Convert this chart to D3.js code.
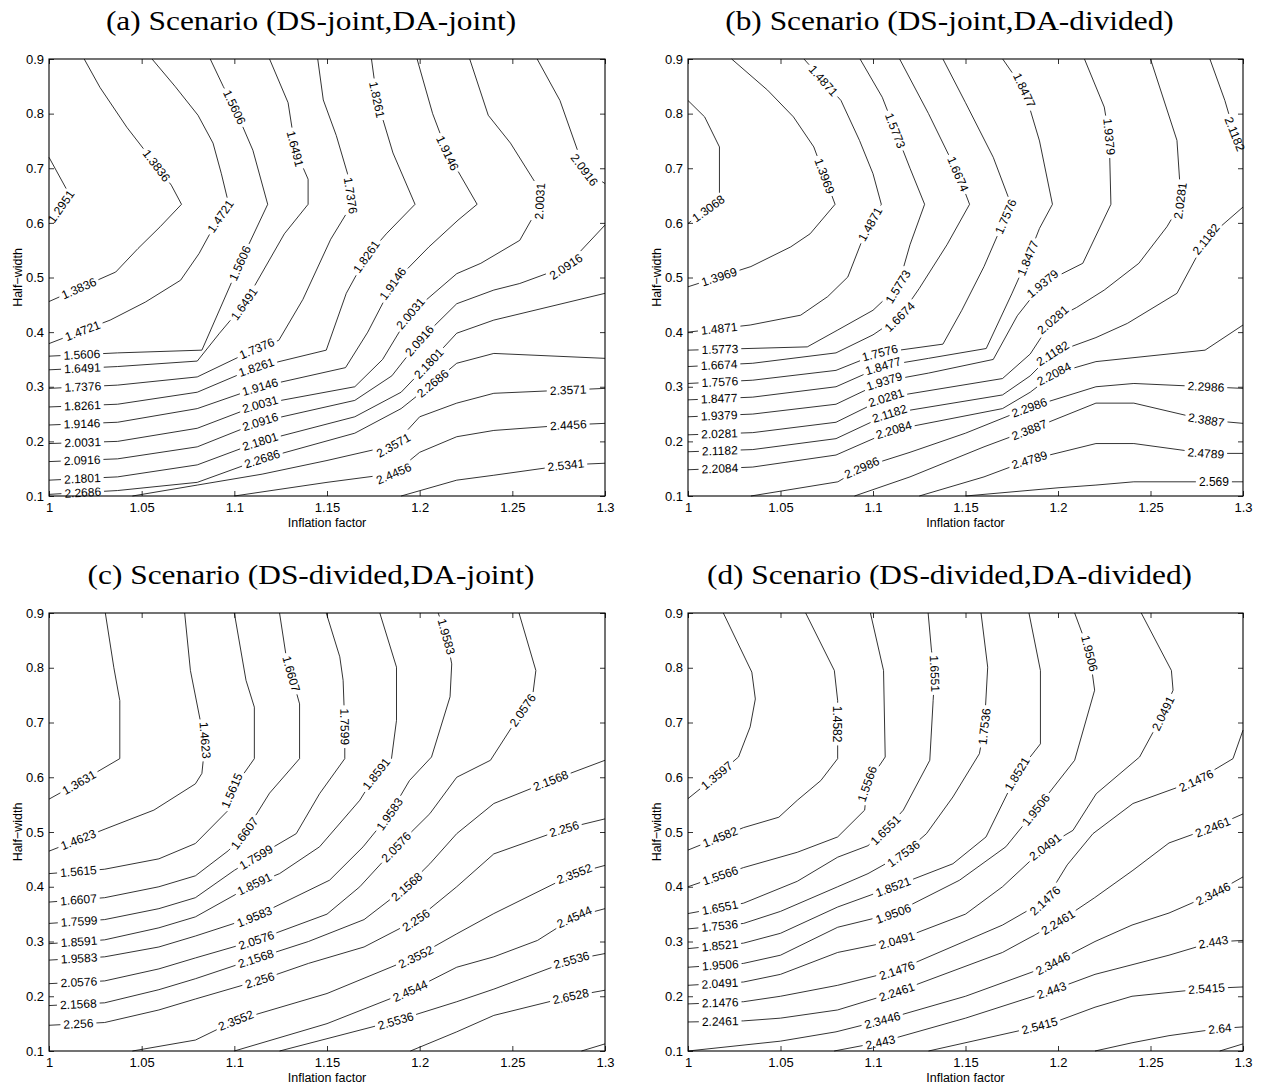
<!DOCTYPE html>
<html>
<head>
<meta charset="utf-8">
<script src="https://cdn.jsdelivr.net/npm/d3@7"></script>
<style>
body { margin: 0; background: #fff; }
text { font-family: "Liberation Sans", Arial, sans-serif; fill: #000; }
</style>
</head>
<body>
<svg id="fig" width="1265" height="1086"></svg>
<script>
(function () {
"use strict";

// ---- tick labels ----
var xTicks = [1, 1.05, 1.1, 1.15, 1.2, 1.25, 1.3];
var yTicks = [0.1, 0.2, 0.3, 0.4, 0.5, 0.6, 0.7, 0.8, 0.9];

// ---- panel (a) : DS-joint, DA-joint ----
var aLines = [
	[1.2951, [[1,0.72],[1.011,0.652],[1,0.598]]],
	[1.3836, [[1.019,0.9],[1.0275,0.848],[1.042,0.775],[1.058,0.705],[1.066,0.669],[1.0715,0.634],[1.06,0.593],[1.048,0.553],[1.036,0.51],[1,0.456]]],
	[1.4721, [[1.0556,0.9],[1.068,0.85],[1.0804,0.797],[1.0885,0.746],[1.093,0.69],[1.097,0.634],[1.09,0.6],[1.081,0.544],[1.071,0.495],[1.052,0.455],[1.033,0.422],[1,0.379]]],
	[1.5606, [[1.087,0.9],[1.094,0.85],[1.1,0.812],[1.11,0.733],[1.118,0.634],[1.103,0.526],[1.0825,0.367],[1.037,0.362],[1,0.356]]],
	[1.6491, [[1.119,0.9],[1.129,0.82],[1.133,0.733],[1.1398,0.68],[1.1398,0.634],[1.127,0.58],[1.1054,0.452],[1.092,0.398],[1.08,0.347],[1.037,0.337],[1,0.331]]],
	[1.7376, [[1.145,0.9],[1.148,0.825],[1.155,0.76],[1.161,0.691],[1.1635,0.634],[1.152,0.57],[1.137,0.46],[1.124,0.385],[1.112,0.37],[1.08,0.318],[1.037,0.303],[1,0.297]]],
	[1.8261, [[1.174,0.9],[1.177,0.825],[1.1856,0.728],[1.1975,0.634],[1.182,0.58],[1.1712,0.538],[1.1604,0.471],[1.1496,0.367],[1.112,0.336],[1.08,0.29],[1.037,0.268],[1,0.263]]],
	[1.9146, [[1.1986,0.9],[1.207,0.8],[1.215,0.728],[1.231,0.634],[1.2207,0.605],[1.205,0.556],[1.1856,0.489],[1.172,0.4],[1.16,0.335],[1.114,0.3],[1.08,0.26],[1.037,0.235],[1,0.23]]],
	[2.0031, [[1.227,0.9],[1.237,0.797],[1.249,0.746],[1.264,0.665],[1.265,0.634],[1.254,0.568],[1.233,0.526],[1.22,0.507],[1.195,0.434],[1.18,0.35],[1.165,0.3],[1.114,0.268],[1.08,0.224],[1.037,0.2],[1,0.196]]],
	[2.0916, [[1.2634,0.9],[1.2757,0.824],[1.289,0.696],[1.3,0.672]]],
	[2.0916, [[1.3,0.596],[1.279,0.52],[1.254,0.489],[1.24,0.477],[1.22,0.452],[1.2,0.385],[1.185,0.32],[1.165,0.275],[1.114,0.236],[1.08,0.19],[1.037,0.168],[1,0.163]]],
	[2.1801, [[1.3,0.471],[1.24,0.422],[1.22,0.398],[1.205,0.343],[1.19,0.29],[1.165,0.245],[1.114,0.2],[1.08,0.157],[1.037,0.135],[1,0.129]]],
	[2.2686, [[1.3,0.352],[1.24,0.361],[1.22,0.343],[1.207,0.306],[1.19,0.26],[1.165,0.215],[1.115,0.168],[1.08,0.125],[1.037,0.11],[1,0.103]]],
	[2.3571, [[1.045,0.1],[1.08,0.12],[1.115,0.14],[1.15,0.165],[1.186,0.193],[1.2,0.245],[1.22,0.27],[1.24,0.288],[1.28,0.294],[1.3,0.297]]],
	[2.4456, [[1.1,0.1],[1.15,0.125],[1.186,0.141],[1.2,0.18],[1.22,0.2085],[1.24,0.22],[1.28,0.23],[1.3,0.233]]],
	[2.5341, [[1.19,0.1],[1.22,0.129],[1.24,0.138],[1.28,0.157],[1.3,0.16]]]
];
var aLabels = [
	[1.2951,1.007,0.628],
	[1.3836,1.057,0.703],[1.3836,1.016,0.48],
	[1.4721,1.0905,0.617],[1.4721,1.018,0.402],
	[1.5606,1.1,0.812],[1.5606,1.103,0.526],[1.5606,1.018,0.357],
	[1.6491,1.132,0.735],[1.6491,1.1054,0.452],[1.6491,1.018,0.333],
	[1.7376,1.163,0.65],[1.7376,1.112,0.37],[1.7376,1.018,0.3],
	[1.8261,1.177,0.825],[1.8261,1.1712,0.538],[1.8261,1.112,0.336],[1.8261,1.018,0.265],
	[1.9146,1.2144,0.727],[1.9146,1.1856,0.489],[1.9146,1.114,0.3],[1.9146,1.018,0.232],
	[2.0031,1.265,0.64],[2.0031,1.195,0.434],[2.0031,1.114,0.268],[2.0031,1.018,0.198],
	[2.0916,1.289,0.696],[2.0916,1.279,0.52],[2.0916,1.2,0.385],[2.0916,1.114,0.236],[2.0916,1.018,0.165],
	[2.1801,1.205,0.343],[2.1801,1.114,0.2],[2.1801,1.018,0.131],
	[2.2686,1.207,0.306],[2.2686,1.115,0.168],[2.2686,1.018,0.105],
	[2.3571,1.186,0.193],[2.3571,1.28,0.294],
	[2.4456,1.186,0.141],[2.4456,1.28,0.23],
	[2.5341,1.279,0.157]
];

// ---- panel (b) : DS-joint, DA-divided ----
var bLines = [
	[1.3068, [[1,0.824],[1.009,0.794],[1.017,0.739],[1.017,0.641],[1,0.599]]],
	[1.3969, [[1.0236,0.9],[1.043,0.843],[1.057,0.794],[1.068,0.739],[1.0795,0.634],[1.066,0.58],[1.0555,0.556],[1.034,0.52],[1,0.483]]],
	[1.4871, [[1.0627,0.9],[1.0827,0.824],[1.0927,0.751],[1.1,0.69],[1.1045,0.634],[1.0955,0.58],[1.0864,0.501],[1.0755,0.465],[1.0609,0.431],[1.0336,0.413],[1,0.4]]],
	[1.5773, [[1.093,0.9],[1.105,0.83],[1.12,0.7],[1.1279,0.634],[1.12,0.56],[1.1135,0.483],[1.1,0.44],[1.081,0.404],[1.0645,0.373],[1,0.367]]],
	[1.6674, [[1.1144,0.9],[1.13,0.8],[1.1459,0.69],[1.1522,0.634],[1.14,0.56],[1.125,0.48],[1.1144,0.428],[1.1,0.395],[1.08,0.362],[1.035,0.343],[1,0.337]]],
	[1.7576, [[1.1378,0.9],[1.15,0.82],[1.165,0.72],[1.1746,0.634],[1.16,0.52],[1.148,0.44],[1.1378,0.378],[1.1036,0.362],[1.08,0.33],[1.035,0.312],[1,0.306]]],
	[1.8477, [[1.1701,0.9],[1.1818,0.843],[1.19,0.75],[1.197,0.634],[1.19,0.59],[1.1836,0.535],[1.175,0.47],[1.1612,0.37],[1.13,0.352],[1.1054,0.338],[1.08,0.3],[1.035,0.281],[1,0.276]]],
	[1.9379, [[1.2143,0.9],[1.225,0.812],[1.2277,0.757],[1.2286,0.634],[1.2134,0.526],[1.1917,0.489],[1.178,0.43],[1.165,0.35],[1.13,0.325],[1.106,0.31],[1.08,0.268],[1.035,0.25],[1,0.245]]],
	[2.0281, [[1.25,0.9],[1.2643,0.751],[1.2661,0.66],[1.2661,0.634],[1.2589,0.593],[1.2437,0.526],[1.225,0.477],[1.21,0.445],[1.197,0.422],[1.185,0.36],[1.17,0.315],[1.107,0.28],[1.08,0.235],[1.035,0.216],[1,0.212]]],
	[2.1182, [[1.2821,0.9],[1.2902,0.824],[1.2955,0.763],[1.3,0.733]]],
	[2.1182, [[1.3,0.629],[1.28,0.57],[1.2643,0.471],[1.2375,0.416],[1.2205,0.39],[1.197,0.361],[1.185,0.32],[1.17,0.285],[1.109,0.251],[1.08,0.205],[1.035,0.185],[1,0.181]]],
	[2.2084, [[1.3,0.413],[1.2795,0.367],[1.2205,0.346],[1.198,0.324],[1.185,0.29],[1.17,0.26],[1.111,0.221],[1.08,0.175],[1.035,0.153],[1,0.148]]],
	[2.2986, [[1.034,0.1],[1.081,0.126],[1.094,0.152],[1.12,0.18],[1.15,0.215],[1.1845,0.262],[1.2205,0.3],[1.241,0.306],[1.28,0.3],[1.3,0.297]]],
	[2.3887, [[1.09,0.1],[1.12,0.135],[1.16,0.19],[1.1845,0.221],[1.2205,0.27],[1.241,0.27],[1.28,0.239],[1.3,0.233]]],
	[2.4789, [[1.125,0.1],[1.16,0.135],[1.1845,0.166],[1.2205,0.196],[1.241,0.196],[1.28,0.178],[1.3,0.178]]],
	[2.569, [[1.15,0.1],[1.2,0.115],[1.2205,0.12],[1.241,0.126],[1.284,0.126],[1.3,0.126]]]
];
var bLabels = [
	[1.3068,1.011,0.626],
	[1.3969,1.0727,0.684],[1.3969,1.017,0.5],
	[1.4871,1.0727,0.858],[1.4871,1.097,0.6],[1.4871,1.017,0.405],
	[1.5773,1.1135,0.77],[1.5773,1.1135,0.483],[1.5773,1.017,0.368],
	[1.6674,1.1459,0.69],[1.6674,1.1144,0.428],[1.6674,1.017,0.34],
	[1.7576,1.1728,0.611],[1.7576,1.1036,0.365],[1.7576,1.017,0.308],
	[1.8477,1.1818,0.843],[1.8477,1.1836,0.535],[1.8477,1.1054,0.338],[1.8477,1.017,0.278],
	[1.9379,1.2277,0.757],[1.9379,1.1917,0.489],[1.9379,1.106,0.31],[1.9379,1.017,0.247],
	[2.0281,1.2661,0.641],[2.0281,1.197,0.422],[2.0281,1.107,0.28],[2.0281,1.017,0.214],
	[2.1182,1.2955,0.763],[2.1182,1.28,0.57],[2.1182,1.197,0.361],[2.1182,1.109,0.251],[2.1182,1.017,0.183],
	[2.2084,1.198,0.324],[2.2084,1.111,0.221],[2.2084,1.017,0.15],
	[2.2986,1.094,0.152],[2.2986,1.1845,0.262],[2.2986,1.28,0.3],
	[2.3887,1.1845,0.221],[2.3887,1.28,0.239],
	[2.4789,1.1845,0.166],[2.4789,1.28,0.178],
	[2.569,1.284,0.126]
];

// ---- panel (c) : DS-divided, DA-joint ----
var cLines = [
	[1.3631, [[1.0304,0.9],[1.035,0.8],[1.0382,0.74],[1.0382,0.634],[1.016,0.59],[1,0.56]]],
	[1.4623, [[1.0732,0.9],[1.0763,0.795],[1.0816,0.704],[1.0843,0.667],[1.0825,0.607],[1.079,0.588],[1.0566,0.54],[1.0307,0.506],[1,0.465]]],
	[1.5615, [[1.1,0.9],[1.1063,0.777],[1.1108,0.728],[1.1108,0.634],[1.0985,0.575],[1.0968,0.54],[1.079,0.479],[1.0593,0.451],[1.03,0.432],[1,0.424]]],
	[1.6607, [[1.1244,0.9],[1.128,0.82],[1.1307,0.789],[1.1352,0.734],[1.1352,0.634],[1.119,0.571],[1.1054,0.497],[1.0968,0.466],[1.079,0.42],[1.0593,0.4],[1.03,0.38],[1,0.372]]],
	[1.7599, [[1.1496,0.9],[1.1569,0.82],[1.1587,0.777],[1.1596,0.692],[1.1596,0.634],[1.146,0.57],[1.1334,0.497],[1.1117,0.454],[1.1,0.43],[1.079,0.38],[1.0593,0.36],[1.03,0.34],[1,0.333]]],
	[1.8591, [[1.1785,0.9],[1.1875,0.801],[1.1875,0.704],[1.1848,0.634],[1.1767,0.607],[1.1677,0.558],[1.146,0.473],[1.1244,0.424],[1.1108,0.405],[1.079,0.345],[1.0593,0.325],[1.03,0.303],[1,0.296]]],
	[1.9583, [[1.21,0.9],[1.2145,0.856],[1.2173,0.807],[1.2164,0.747],[1.2064,0.637],[1.1945,0.594],[1.1839,0.533],[1.1695,0.473],[1.1514,0.412],[1.1108,0.345],[1.079,0.31],[1.0593,0.29],[1.03,0.272],[1,0.266]]],
	[2.0576, [[1.2536,0.9],[1.2627,0.795],[1.2609,0.747],[1.2555,0.722],[1.2382,0.631],[1.22,0.6],[1.2055,0.5335],[1.1875,0.473],[1.1677,0.4],[1.15,0.35],[1.1117,0.302],[1.079,0.27],[1.0593,0.25],[1.03,0.228],[1,0.223]]],
	[2.1568, [[1.3,0.631],[1.2709,0.594],[1.24,0.552],[1.22,0.497],[1.2055,0.442],[1.193,0.4],[1.17,0.34],[1.14,0.3],[1.1117,0.269],[1.079,0.232],[1.0593,0.212],[1.03,0.188],[1,0.183]]],
	[2.256, [[1.3,0.524],[1.2782,0.506],[1.24,0.46],[1.22,0.4],[1.198,0.339],[1.17,0.29],[1.14,0.26],[1.1135,0.229],[1.079,0.195],[1.0593,0.175],[1.03,0.152],[1,0.147]]],
	[2.3552, [[1.045,0.1],[1.079,0.12],[1.1009,0.156],[1.15,0.205],[1.198,0.272],[1.22,0.314],[1.24,0.351],[1.2836,0.424],[1.3,0.439]]],
	[2.4544, [[1.1,0.1],[1.15,0.15],[1.195,0.21],[1.22,0.253],[1.24,0.272],[1.2636,0.302],[1.2836,0.345],[1.3,0.36]]],
	[2.5536, [[1.1244,0.1],[1.187,0.155],[1.22,0.19],[1.24,0.213],[1.2818,0.266],[1.3,0.278]]],
	[2.6528, [[1.195,0.1],[1.22,0.135],[1.24,0.165],[1.2818,0.2],[1.3,0.211]]],
	[2.752, [[1.2873,0.1],[1.3,0.113]]]
];
var cLabels = [
	[1.3631,1.0164,0.59],
	[1.4623,1.0843,0.667],[1.4623,1.016,0.485],
	[1.5615,1.0985,0.575],[1.5615,1.016,0.428],
	[1.6607,1.1307,0.789],[1.6607,1.1054,0.497],[1.6607,1.016,0.376],
	[1.7599,1.1596,0.692],[1.7599,1.1117,0.454],[1.7599,1.016,0.336],
	[1.8591,1.1767,0.607],[1.8591,1.1108,0.405],[1.8591,1.016,0.3],
	[1.9583,1.2145,0.856],[1.9583,1.1839,0.533],[1.9583,1.1108,0.345],[1.9583,1.016,0.269],
	[2.0576,1.2555,0.722],[2.0576,1.1875,0.473],[2.0576,1.1117,0.302],[2.0576,1.016,0.226],
	[2.1568,1.2709,0.594],[2.1568,1.193,0.4],[2.1568,1.1117,0.269],[2.1568,1.016,0.186],
	[2.256,1.2782,0.506],[2.256,1.198,0.339],[2.256,1.1135,0.229],[2.256,1.016,0.149],
	[2.3552,1.2836,0.424],[2.3552,1.198,0.272],[2.3552,1.1009,0.156],
	[2.4544,1.2836,0.345],[2.4544,1.195,0.21],
	[2.5536,1.2818,0.266],[2.5536,1.187,0.155],
	[2.6528,1.2818,0.2]
];

// ---- panel (d) : DS-divided, DA-divided ----
var dLines = [
	[1.3597, [[1.0191,0.9],[1.0345,0.792],[1.0364,0.743],[1.0336,0.692],[1.0273,0.637],[1.0155,0.603],[1,0.561]]],
	[1.4582, [[1.0636,0.9],[1.0791,0.795],[1.0809,0.74],[1.0809,0.634],[1.0718,0.594],[1.0591,0.558],[1.0491,0.527],[1.03,0.508],[1,0.467]]],
	[1.5566, [[1.0986,0.9],[1.1057,0.795],[1.1066,0.637],[1.0968,0.588],[1.0955,0.54],[1.0809,0.491],[1.0591,0.463],[1.03,0.435],[1,0.4]]],
	[1.6551, [[1.1298,0.9],[1.1316,0.832],[1.1334,0.789],[1.1325,0.74],[1.1307,0.631],[1.1164,0.54],[1.1066,0.503],[1.0973,0.475],[1.0809,0.454],[1.0591,0.41],[1.03,0.37],[1,0.351]]],
	[1.7536, [[1.1584,0.9],[1.162,0.801],[1.1602,0.692],[1.1575,0.643],[1.1432,0.564],[1.1289,0.497],[1.1164,0.46],[1.0973,0.424],[1.0809,0.4],[1.05,0.355],[1.03,0.333],[1,0.323]]],
	[1.8521, [[1.1843,0.9],[1.1905,0.795],[1.1905,0.661],[1.178,0.607],[1.1611,0.491],[1.1432,0.442],[1.1111,0.4],[1.0809,0.363],[1.05,0.315],[1.03,0.297],[1,0.287]]],
	[1.9506, [[1.209,0.9],[1.2171,0.826],[1.2198,0.759],[1.209,0.631],[1.1879,0.54],[1.1718,0.473],[1.1468,0.412],[1.1111,0.351],[1.0809,0.326],[1.05,0.275],[1.03,0.26],[1,0.253]]],
	[2.0491, [[1.245,0.9],[1.2613,0.795],[1.2622,0.759],[1.2568,0.716],[1.2441,0.637],[1.2207,0.57],[1.2081,0.503],[1.1932,0.473],[1.17,0.4],[1.15,0.35],[1.1129,0.302],[1.0809,0.28],[1.05,0.24],[1.03,0.226],[1,0.22]]],
	[2.1476, [[1.3,0.686],[1.2946,0.634],[1.2748,0.594],[1.2405,0.552],[1.2189,0.497],[1.205,0.44],[1.1932,0.375],[1.17,0.33],[1.1129,0.247],[1.0809,0.22],[1.05,0.2],[1.03,0.19],[1,0.186]]],
	[2.2461, [[1.3,0.533],[1.2838,0.509],[1.26,0.48],[1.2405,0.43],[1.2198,0.38],[1.2,0.335],[1.17,0.28],[1.1129,0.208],[1.0809,0.175],[1.05,0.16],[1.03,0.155],[1,0.153]]],
	[2.3446, [[1,0.1],[1.05,0.118],[1.08,0.135],[1.1048,0.156],[1.15,0.2],[1.1932,0.253],[1.22,0.3],[1.24,0.33],[1.26,0.352],[1.2838,0.387],[1.3,0.418]]],
	[2.443, [[1.079,0.1],[1.1039,0.116],[1.15,0.16],[1.196,0.21],[1.22,0.24],[1.26,0.275],[1.2838,0.299],[1.3,0.302]]],
	[2.5415, [[1.13,0.1],[1.1843,0.141],[1.2,0.155],[1.22,0.18],[1.24,0.2],[1.2802,0.214],[1.3,0.217]]],
	[2.64, [[1.22,0.1],[1.24,0.115],[1.26,0.128],[1.2874,0.141],[1.3,0.144]]],
	[2.7385, [[1.2874,0.1],[1.3,0.113]]]
];
var dLabels = [
	[1.3597,1.0155,0.603],
	[1.4582,1.0809,0.698],[1.4582,1.0173,0.491],
	[1.5566,1.0968,0.588],[1.5566,1.0173,0.424],
	[1.6551,1.1334,0.789],[1.6551,1.1066,0.503],[1.6551,1.0173,0.363],
	[1.7536,1.1602,0.692],[1.7536,1.1164,0.46],[1.7536,1.0173,0.328],
	[1.8521,1.178,0.607],[1.8521,1.1111,0.4],[1.8521,1.0173,0.292],
	[1.9506,1.2171,0.826],[1.9506,1.1879,0.54],[1.9506,1.1111,0.351],[1.9506,1.0173,0.256],
	[2.0491,1.2568,0.716],[2.0491,1.1932,0.473],[2.0491,1.1129,0.302],[2.0491,1.0173,0.223],
	[2.1476,1.2748,0.594],[2.1476,1.1932,0.375],[2.1476,1.1129,0.247],[2.1476,1.0173,0.188],
	[2.2461,1.2838,0.509],[2.2461,1.2,0.335],[2.2461,1.1129,0.208],[2.2461,1.0173,0.155],
	[2.3446,1.2838,0.387],[2.3446,1.196,0.268],[2.3446,1.1048,0.156],
	[2.443,1.2838,0.299],[2.443,1.196,0.214],[2.443,1.1039,0.116],
	[2.5415,1.2802,0.214],[2.5415,1.19,0.148],
	[2.64,1.2874,0.141]
];

var titles = [
	"(a) Scenario (DS-joint,DA-joint)",
	"(b) Scenario (DS-joint,DA-divided)",
	"(c) Scenario (DS-divided,DA-joint)",
	"(d) Scenario (DS-divided,DA-divided)"
];

// layout of the four axes boxes
var panels = [
	{ left: 49,  right: 605,  top: 59,  bottom: 496,  lines: aLines, labels: aLabels, title: titles[0] },
	{ left: 688, right: 1243, top: 59,  bottom: 496,  lines: bLines, labels: bLabels, title: titles[1] },
	{ left: 49,  right: 605,  top: 613, bottom: 1051, lines: cLines, labels: cLabels, title: titles[2] },
	{ left: 688, right: 1243, top: 613, bottom: 1051, lines: dLines, labels: dLabels, title: titles[3] }
];

var svg = d3.select("#fig");

function fmtX(d) { return String(Math.round(d * 100) / 100); }
function fmtY(d) { return String(Math.round(d * 10) / 10); }

function drawPanel(p) {
	var w = p.right - p.left,
		h = p.bottom - p.top;
	var g = svg.append("g").attr("transform", "translate(" + p.left + "," + p.top + ")");

	var x = d3.scaleLinear().domain([1, 1.3]).range([0, w]);
	var y = d3.scaleLinear().domain([0.1, 0.9]).range([h, 0]);

	var line = d3.line()
		.x(function (d) { return x(d[0]); })
		.y(function (d) { return y(d[1]); });

	// contour lines
	var paths = p.lines.map(function (l) {
		var el = g.append("path")
			.attr("d", line(l[1]))
			.attr("fill", "none")
			.attr("stroke", "#000")
			.attr("stroke-width", 0.8)
			.attr("stroke-linejoin", "round");
		return { level: l[0], node: el.node(), gaps: [] };
	});

	// inline labels (clabel style): nearest point on the matching line
	p.labels.forEach(function (lb) {
		var px = x(lb[1]), py = y(lb[2]);
		var best = null;
		paths.forEach(function (pa) {
			if (pa.level !== lb[0]) return;
			var L = pa.node.getTotalLength();
			for (var s = 0; s <= L; s += 1) {
				var pt = pa.node.getPointAtLength(s);
				var dd = (pt.x - px) * (pt.x - px) + (pt.y - py) * (pt.y - py);
				if (!best || dd < best.d) best = { d: dd, s: s, pa: pa, L: L };
			}
		});
		if (!best) return;
		var nd = best.pa.node;
		var c = nd.getPointAtLength(best.s);
		var p1 = nd.getPointAtLength(Math.max(0, best.s - 7));
		var p2 = nd.getPointAtLength(Math.min(best.L, best.s + 7));
		var ang = Math.atan2(p2.y - p1.y, p2.x - p1.x) * 180 / Math.PI;
		if (ang > 90) ang -= 180;
		if (ang <= -90) ang += 180;

		var t = g.append("text")
			.attr("transform", "translate(" + c.x + "," + c.y + ") rotate(" + ang + ")")
			.attr("text-anchor", "middle")
			.attr("dy", "0.35em")
			.style("font-size", "12px")
			.text(String(lb[0]));
		var tw = t.node().getComputedTextLength();
		best.pa.gaps.push([best.s - tw / 2 - 3, best.s + tw / 2 + 3]);
	});

	// break the lines under their labels
	paths.forEach(function (pa) {
		if (!pa.gaps.length) return;
		var L = pa.node.getTotalLength();
		pa.gaps.sort(function (a, b) { return a[0] - b[0]; });
		var dash = [], cur = 0;
		pa.gaps.forEach(function (gp) {
			var a = Math.max(gp[0], cur), b = Math.min(gp[1], L);
			if (b <= cur) return;
			dash.push(Math.max(0.01, a - cur), b - a);
			cur = b;
		});
		dash.push(Math.max(0.01, L - cur) + 1, L + 10);
		d3.select(pa.node).attr("stroke-dasharray", dash.join(","));
	});

	// axes box with inward ticks
	var axB = d3.axisBottom(x).tickValues(xTicks).tickFormat(fmtX).tickSizeInner(-5).tickSizeOuter(0).tickPadding(7);
	var axL = d3.axisLeft(y).tickValues(yTicks).tickFormat(fmtY).tickSizeInner(-5).tickSizeOuter(0).tickPadding(5);
	var axT = d3.axisTop(x).tickValues(xTicks).tickFormat("").tickSizeInner(-5).tickSizeOuter(0);
	var axR = d3.axisRight(y).tickValues(yTicks).tickFormat("").tickSizeInner(-5).tickSizeOuter(0);

	var gb = g.append("g").attr("transform", "translate(0," + h + ")").call(axB);
	var gl = g.append("g").call(axL);
	var gt = g.append("g").call(axT);
	var gr = g.append("g").attr("transform", "translate(" + w + ",0)").call(axR);
	[gb, gl, gt, gr].forEach(function (a) {
		a.select(".domain").remove();
		a.selectAll("line").attr("stroke", "#000").attr("stroke-width", 0.8);
		a.selectAll("text").style("font-size", "13px").style("font-family", "'Liberation Sans', Arial, sans-serif").attr("fill", "#000");
	});

	g.append("rect")
		.attr("width", w).attr("height", h)
		.attr("fill", "none").attr("stroke", "#000").attr("stroke-width", 1.1);

	// axis titles
	g.append("text")
		.attr("x", w / 2).attr("y", h + 27)
		.attr("text-anchor", "middle").attr("dy", "0.35em")
		.style("font-size", "12.5px")
		.text("Inflation factor");
	g.append("text")
		.attr("transform", "translate(-31," + (h / 2) + ") rotate(-90)")
		.attr("text-anchor", "middle").attr("dy", "0.35em")
		.style("font-size", "12.5px")
		.text("Half\u2212width");

	// panel title, centred over the whole subplot (axes + y label), a bit wider like Computer Modern
	var tt = g.append("text")
		.attr("x", w / 2 - 16).attr("y", -39)
		.attr("text-anchor", "middle").attr("dy", "0.35em")
		.style("font-family", "'Liberation Serif', 'Times New Roman', serif")
		.style("font-size", "28px")
		.text(p.title);
	var tl = tt.node().getComputedTextLength();
	tt.attr("textLength", tl * 1.12).attr("lengthAdjust", "spacingAndGlyphs");
}

panels.forEach(drawPanel);

})();
</script>
</body>
</html>
